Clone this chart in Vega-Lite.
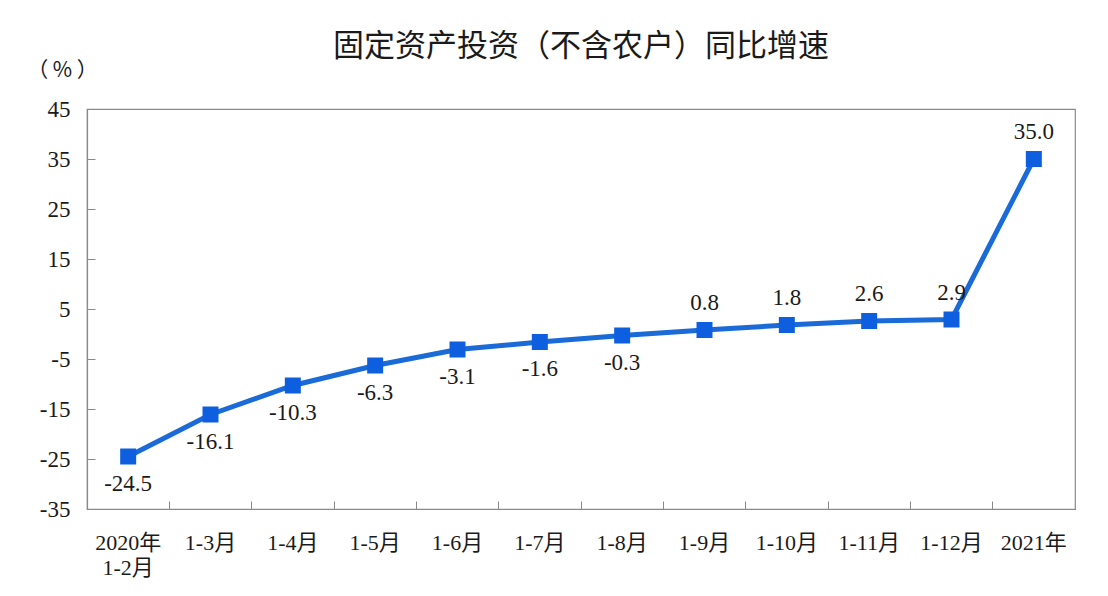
{
  "$schema": "https://vega.github.io/schema/vega-lite/v6.json",
  "autosize": "none",
  "width": 988,
  "height": 400,
  "padding": {"left": 87, "top": 109, "right": 33, "bottom": 87},
  "background": "white",
  "title": {
    "text": "固定资产投资（不含农户）同比增速",
    "font": "Noto Sans CJK SC",
    "fontSize": 31,
    "fontWeight": 400,
    "color": "#1a1a1a",
    "anchor": "middle",
    "offset": -4
  },
  "config": {
    "locale": {"number": {"decimal": ".", "thousands": ",", "grouping": [3], "currency": ["", ""], "minus": "-"}},
    "view": {"stroke": "#8a8a8a", "strokeWidth": 1.2},
    "axis": {"grid": false, "domainColor": "#8a8a8a", "tickColor": "#8a8a8a", "labelColor": "#1a1a1a", "labelFont": "Liberation Serif, Noto Sans CJK SC", "domainWidth": 1.2}
  },
  "data": {
    "values": [
      {"period": "2020年|1-2月", "v": -24.5},
      {"period": "1-3月", "v": -16.1},
      {"period": "1-4月", "v": -10.3},
      {"period": "1-5月", "v": -6.3},
      {"period": "1-6月", "v": -3.1},
      {"period": "1-7月", "v": -1.6},
      {"period": "1-8月", "v": -0.3},
      {"period": "1-9月", "v": 0.8},
      {"period": "1-10月", "v": 1.8},
      {"period": "1-11月", "v": 2.6},
      {"period": "1-12月", "v": 2.9},
      {"period": "2021年", "v": 35.0}
    ]
  },
  "encoding": {
    "x": {
      "field": "period", "type": "nominal", "sort": null,
      "scale": {"type": "band", "paddingInner": 0, "paddingOuter": 0},
      "axis": {
        "title": null, "labelAngle": 0, "labelFontSize": 22, "labelPadding": 41,
        "bandPosition": 0, "tickSize": -8, "labelExpr": "split(datum.value, '|')",
        "labelLineHeight": 25, "labelBaseline": "middle"
      }
    },
    "y": {
      "field": "v", "type": "quantitative",
      "scale": {"domain": [-35, 45], "nice": false, "zero": false},
      "axis": {
        "values": [-35, -25, -15, -5, 5, 15, 25, 35, 45],
        "tickSize": -8, "labelFontSize": 23, "labelPadding": 25,
        "title": "（ % ）", "titleAngle": 0, "titleFont": "Noto Sans CJK SC",
        "titleFontSize": 21, "titleFontWeight": "normal", "titleColor": "#1a1a1a",
        "titleX": -25, "titleY": -39, "titleAlign": "center", "titleBaseline": "middle"
      }
    }
  },
  "layer": [
    {"mark": {"type": "line", "color": "#1a6ad8", "strokeWidth": 5}},
    {"mark": {"type": "point", "shape": "square", "filled": true, "size": 256, "color": "#0d5fe0", "opacity": 1}},
    {
      "transform": [{"filter": "datum.v < 0"}],
      "mark": {"type": "text", "dy": 27, "baseline": "middle", "font": "Liberation Serif", "fontSize": 23, "color": "#1a1a1a"},
      "encoding": {"text": {"field": "v", "type": "quantitative", "format": ".1f"}}
    },
    {
      "transform": [{"filter": "datum.v >= 0"}],
      "mark": {"type": "text", "dy": -27, "baseline": "middle", "font": "Liberation Serif", "fontSize": 23, "color": "#1a1a1a"},
      "encoding": {"text": {"field": "v", "type": "quantitative", "format": ".1f"}}
    }
  ]
}
